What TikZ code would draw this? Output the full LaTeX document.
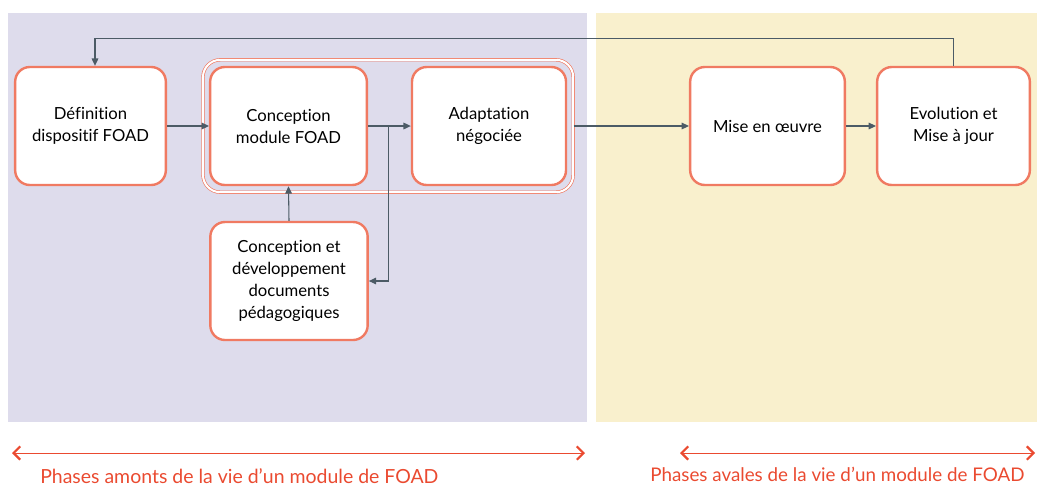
\documentclass[tikz,border=0pt]{standalone}
\usepackage{fontspec}
\setmainfont[Ligatures=NoCommon]{Lato}
\usetikzlibrary{arrows.meta,fit,calc}
\definecolor{panelA}{HTML}{DEDCEC}
\definecolor{panelB}{HTML}{F9F0CD}
\definecolor{boxline}{HTML}{F07A62}
\definecolor{conncol}{HTML}{4C5B66}
\definecolor{phasered}{HTML}{EA4A30}
\tikzset{
  stepbox/.style={draw=boxline, line width=1.8pt, fill=white, rounded corners=11pt,
    align=center, font=\fontsize{12.5}{16.5}\selectfont, inner sep=2pt},
  grp/.style={draw=boxline, line width=0.5pt, double=white, double distance=1.5pt,
    rounded corners=13pt, inner sep=4.5pt},
  conn/.style={draw=conncol, line width=0.8pt, -{Triangle[length=5.5pt,width=5pt]}},
  phase/.style={draw=phasered, line width=0.6pt,
    {Straight Barb[length=5pt,width=10pt,line width=1.6pt]}-{Straight Barb[length=5pt,width=10pt,line width=1.6pt]}},
  phasetext/.style={text=phasered, font=\fontsize{14.6}{17}\selectfont, anchor=west, inner sep=0pt}
}
\begin{document}
\begin{tikzpicture}[x=0.75pt,y=-0.75pt]
\useasboundingbox (0,0) rectangle (1037,487);
% panels
\fill[panelA] (8,13) rectangle (587,422);
\fill[panelB] (596,13) rectangle (1037,422);
% boxes
\node[stepbox, minimum width=113pt, minimum height=88.5pt] (def) at (90.5,126) {Définition\\dispositif FOAD};
\node[stepbox, minimum width=117.5pt, minimum height=88.5pt] (conc) at (288.5,126) {Conception\\module FOAD};
\node[stepbox, minimum width=115.5pt, minimum height=88.5pt] (adap) at (489,126) {Adaptation\\négociée};
\node[grp, fit=(conc)(adap)] (group) {};
\node[stepbox, minimum width=118pt, minimum height=88.5pt] (cdev) at (289,281) {Conception et\\développement\\documents\\pédagogiques};
\node[stepbox, minimum width=116pt, minimum height=88.5pt] (mise) at (767.5,126) {Mise en œuvre};
\node[stepbox, minimum width=114.5pt, minimum height=88.5pt] (evo) at (953.5,126) {Evolution et\\Mise à jour};
% connectors
\draw[conn] (def.east) -- (conc.west);
\draw[conn] (conc.east) -- (adap.west);
\coordinate (br) at ($(conc.east)!0.47!(adap.west)$);
\draw[conn] (br) |- (cdev.east);
\draw[conn] (cdev.north) -- (conc.south);
\draw[conn] (group.east) -- (mise.west);
\draw[conn] (mise.east) -- (evo.west);
\coordinate (topturn) at ($(evo.north)+(0,-27)$);
\coordinate (defin) at ($(def.north)+(4.5,0)$);
\draw[conn] (evo.north) -- (topturn) -| (defin);
% phases
\coordinate (pa1) at (12,453);
\coordinate (pa2) at (585,453);
\coordinate (pb1) at (680,453);
\coordinate (pb2) at (1035,453);
\draw[phase] (pa1) -- (pa2);
\draw[phase] (pb1) -- (pb2);
\node[phasetext] (ta) at (40,476) {Phases amonts de la vie d’un module de FOAD};
\node[phasetext, font=\fontsize{14.1}{17}\selectfont] (tb) at (650,474) {Phases avales de la vie d’un module de FOAD};
\end{tikzpicture}
\end{document}
